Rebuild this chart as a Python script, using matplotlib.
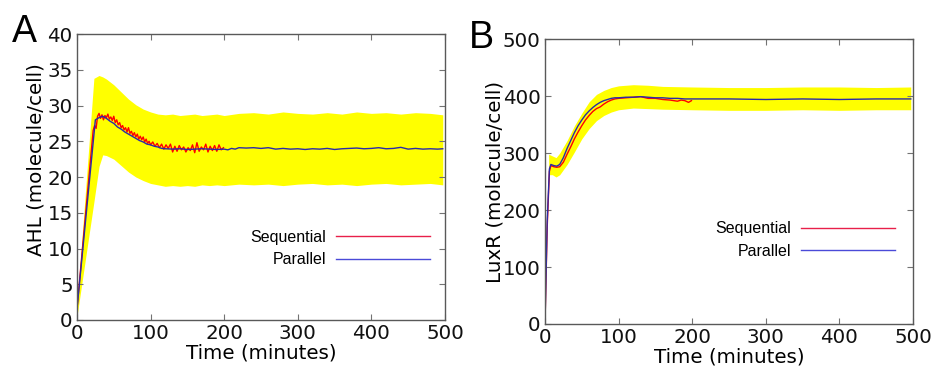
import matplotlib.pyplot as plt

# panel A - AHL
band_a_t = [0, 23, 30, 35, 40, 50, 60, 70, 80, 90, 100, 110, 120, 130, 140, 150, 160, 170, 180, 190,
            200, 220, 240, 260, 280, 300, 320, 340, 360, 380, 400, 420, 440, 460, 480, 497]
band_a_hi = [2, 33.8, 34.2, 34.0, 33.7, 32.9, 31.9, 30.9, 30.1, 29.5, 29.1, 28.8, 28.7, 28.8, 28.6, 28.7,
             28.8, 28.6, 28.7, 28.8, 28.6, 28.9, 29.0, 28.8, 29.1, 28.9, 28.8, 29.0, 28.8, 29.1, 28.9,
             29.0, 28.8, 29.0, 28.9, 28.7]
band_a_lo = [0.5, 16.5, 21.5, 23.1, 23.0, 22.5, 21.6, 20.7, 20.0, 19.5, 19.1, 18.9, 18.7, 18.8, 18.7,
             18.8, 18.7, 18.9, 18.8, 18.9, 18.8, 19.0, 18.9, 19.0, 18.8, 19.0, 19.1, 18.9, 19.0, 18.8,
             19.0, 19.1, 18.9, 19.0, 19.1, 18.9]

seq_a_t = [0, 22, 24, 26, 28, 30, 32, 34, 36, 38, 40, 42, 44, 46, 48, 50, 52, 54, 56, 58, 60, 62, 64,
           66, 68, 70, 72, 74, 76, 78, 80, 82, 84, 86, 88, 90, 92, 94, 96, 98, 100, 103, 106, 109, 112,
           115, 118, 121, 124, 127, 130, 133, 136, 139, 142, 145, 148, 151, 154, 157, 160, 163, 166,
           169, 172, 175, 178, 181, 184, 187, 190, 193, 196, 199]
seq_a = [1.5, 26.5, 27.2, 26.8, 28.5, 28.9, 28.2, 28.7, 28.0, 28.6, 28.3, 28.8, 28.1, 28.4, 27.9, 28.5,
         27.6, 28.0, 27.3, 27.6, 26.9, 27.2, 26.6, 26.9, 26.3, 26.9, 26.1, 26.4, 25.8, 26.2, 25.6, 26.0,
         25.3, 25.7, 25.2, 25.6, 24.9, 25.3, 24.7, 25.0, 24.5, 24.9, 24.3, 24.7, 24.1, 24.6, 23.9, 24.5,
         24.0, 24.6, 23.5, 24.3, 23.6, 24.4, 23.8, 24.2, 23.5, 24.1, 23.7, 24.5, 23.4, 24.8, 23.6, 24.2,
         23.8, 24.6, 23.5, 24.3, 23.7, 24.4, 23.6, 24.5, 23.8, 24.1]

par_a_t = [0, 25, 30, 35, 40, 45, 50, 55, 60, 65, 70, 75, 80, 85, 90, 95, 100, 105, 110, 115, 120, 130,
           140, 150, 160, 170, 180, 190, 200, 205, 210, 215, 220, 230, 240, 250, 260, 270, 280, 290,
           300, 310, 320, 330, 340, 350, 360, 370, 380, 390, 400, 410, 420, 430, 440, 450, 460, 470,
           480, 490, 497]
par_a = [1.5, 28.0, 28.3, 28.5, 28.2, 27.8, 27.5, 27.0, 26.7, 26.3, 26.0, 25.7, 25.4, 25.1, 24.9, 24.6,
         24.5, 24.3, 24.2, 24.0, 23.95, 23.9, 23.95, 23.85, 23.9, 23.95, 23.9, 23.85, 23.9, 23.8, 24.0,
         23.9, 24.1, 24.05, 24.1, 24.0, 24.1, 23.9, 24.0, 23.9, 23.95, 23.85, 23.95, 23.9, 24.0, 23.85,
         23.95, 24.0, 24.05, 23.95, 24.0, 24.1, 23.95, 24.0, 24.15, 23.9, 24.0, 23.9, 23.95, 23.9, 23.95]

# panel B - LuxR
band_b_t = [5, 10, 15, 20, 30, 40, 50, 60, 70, 80, 90, 100, 120, 140, 160, 200, 250, 300, 350, 400,
            450, 497]
band_b_hi = [298, 295, 292, 300, 322, 348, 370, 390, 403, 410, 415, 418, 420, 419, 417, 416, 415, 415,
             416, 416, 415, 416]
band_b_lo = [262, 262, 258, 262, 280, 302, 325, 343, 357, 366, 372, 376, 379, 378, 377, 376, 375, 375,
             376, 375, 376, 376]

par_b_t = [0, 3, 6, 8, 12, 16, 20, 25, 30, 35, 40, 45, 50, 55, 60, 65, 70, 75, 80, 85, 90, 95, 100,
           110, 120, 130, 140, 150, 160, 170, 180, 190, 200, 250, 300, 350, 400, 450, 497]
par_b = [0, 180, 272, 280, 278, 277, 280, 292, 308, 322, 336, 348, 358, 367, 374, 380, 385, 389, 392,
         394, 396, 397, 397, 398, 398, 399, 398, 397, 397, 396, 396, 395, 395, 395, 394, 395, 394, 395,
         395]

seq_b_t = [0, 3, 6, 8, 12, 16, 20, 25, 30, 35, 40, 45, 50, 55, 60, 65, 70, 75, 80, 85, 90, 95, 100,
           110, 120, 130, 140, 150, 160, 170, 180, 185, 190, 195, 199]
seq_b = [0, 170, 268, 278, 276, 275, 276, 284, 298, 311, 325, 337, 348, 358, 366, 373, 378, 381, 386,
         390, 393, 395, 396, 397, 398, 399, 396, 396, 394, 393, 391, 393, 392, 389, 392]

time_ticks = [0, 100, 200, 300, 400, 500]

fig = plt.figure(figsize=(9.34, 3.69), dpi=100)
ax_a = fig.add_axes([0.0824, 0.1328, 0.394, 0.775])
ax_b = fig.add_axes([0.5835, 0.122, 0.394, 0.772])

panels = [
    (ax_a, band_a_t, band_a_hi, band_a_lo, seq_a_t, seq_a, par_a_t, par_a),
    (ax_b, band_b_t, band_b_hi, band_b_lo, seq_b_t, seq_b, par_b_t, par_b),
]
for ax, bt, hi, lo, st, sv, pt, pv in panels:
    ax.fill_between(bt, lo, hi, color='yellow', linewidth=0)
    ax.plot(st, sv, color='red', lw=1.0, label='Sequential')
    ax.plot(pt, pv, color='#2a2aa8', lw=1.0, label='Parallel')
    ax.set_xlim(0, 500)
    ax.set_xticks(time_ticks)
    ax.tick_params(direction='in', top=True, right=True, length=4, color='0.45',
                   labelsize=14.3, pad=3, labelcolor='#111111')
    for sp in ax.spines.values():
        sp.set_color('0.35')
        sp.set_linewidth(1.0)
    ax.set_xlabel('Time (minutes)', fontsize=14.3, labelpad=0)

ax_a.set_ylim(0, 40)
ax_a.set_yticks(range(0, 41, 5))
ax_a.set_ylabel('AHL (molecule/cell)', fontsize=14.3)
ax_a.yaxis.set_label_coords(-0.085, 0.56)

ax_b.set_ylim(0, 500)
ax_b.set_yticks(range(0, 501, 100))
ax_b.set_ylabel('LuxR (molecule/cell)', fontsize=14.3)
ax_b.yaxis.set_label_coords(-0.11, 0.5)

leg_a = ax_a.legend(loc='center right', bbox_to_anchor=(0.959, 0.25), frameon=False, markerfirst=False,
                    borderpad=0, borderaxespad=0, handlelength=5.9, handletextpad=0.6, labelspacing=0.45,
                    prop={'family': 'Liberation Sans', 'size': 11.5})
leg_b = ax_b.legend(loc='center right', bbox_to_anchor=(0.951, 0.295), frameon=False, markerfirst=False,
                    borderpad=0, borderaxespad=0, handlelength=5.9, handletextpad=0.6, labelspacing=0.45,
                    prop={'family': 'Liberation Sans', 'size': 11.5})
for leg in (leg_a, leg_b):
    leg.get_lines()[0].set_color('#e8204a')
    leg.get_lines()[1].set_color('#4a4ad8')

fig.text(0.013, 0.887, 'A', fontsize=27, family='Liberation Sans')
fig.text(0.502, 0.87, 'B', fontsize=27, family='Liberation Sans')

fig.savefig('out.png', dpi=100)
